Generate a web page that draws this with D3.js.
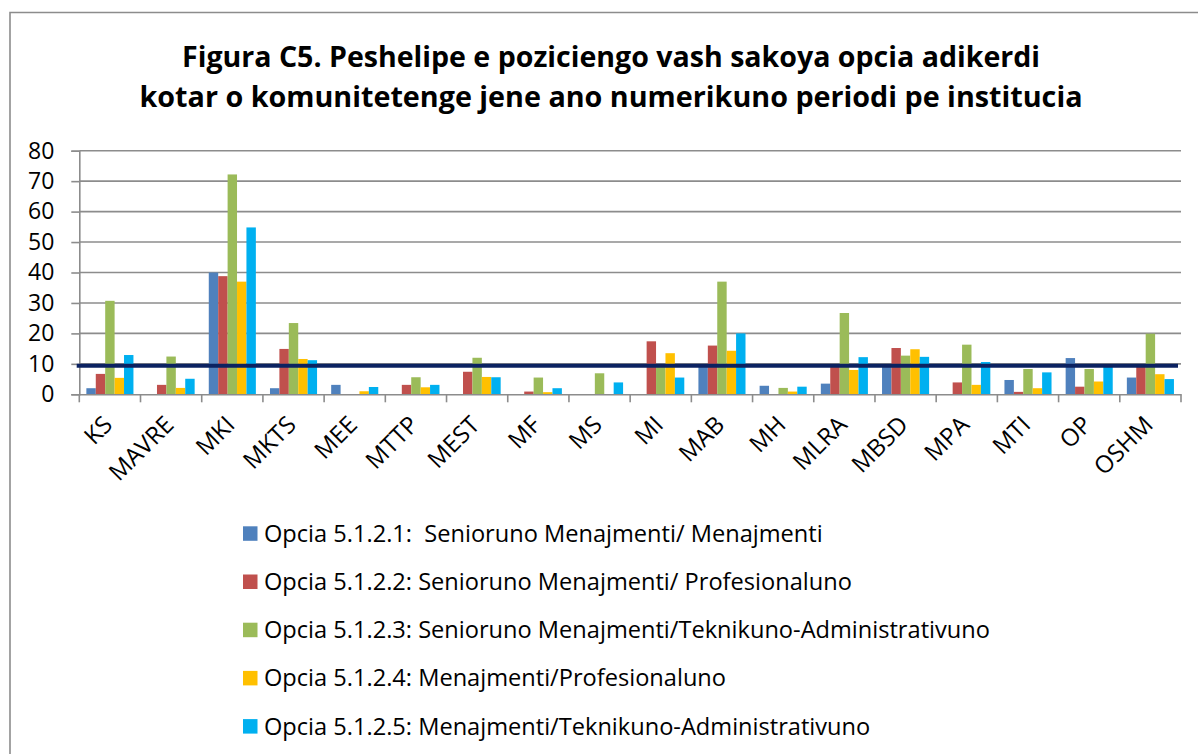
<!DOCTYPE html>
<html>
<head>
<meta charset="utf-8">
<script src="https://cdn.jsdelivr.net/npm/d3@7"></script>
<style>
  html, body { margin: 0; padding: 0; background: #fff; }
  svg { display: block; }
  text { font-family: "Open Sans", "Noto Sans", sans-serif; fill: #000; }
</style>
</head>
<body>
<svg id="chart" width="1198" height="754"></svg>
<script>
// ---- data ----
const categories = ["KS","MAVRE","MKI","MKTS","MEE","MTTP","MEST","MF","MS","MI","MAB","MH","MLRA","MBSD","MPA","MTI","OP","OSHM"];
const seriesNames = [
  "Opcia 5.1.2.1:  Senioruno Menajmenti/ Menajmenti",
  "Opcia 5.1.2.2: Senioruno Menajmenti/ Profesionaluno",
  "Opcia 5.1.2.3: Senioruno Menajmenti/Teknikuno-Administrativuno",
  "Opcia 5.1.2.4: Menajmenti/Profesionaluno",
  "Opcia 5.1.2.5: Menajmenti/Teknikuno-Administrativuno"
];
const s1 = [2.0, 0, 40.0, 2.0, 3.1, 0, 0, 0, 0, 0, 9.5, 2.8, 3.5, 9.5, 0, 4.7, 11.9, 5.5];
const s2 = [6.7, 3.1, 38.8, 14.9, 0, 3.1, 7.4, 0.9, 0, 17.4, 16.0, 0, 9.5, 15.2, 3.9, 0.8, 2.5, 9.5];
const s3 = [30.7, 12.4, 72.2, 23.4, 0, 5.6, 12.0, 5.5, 6.9, 9.5, 37.0, 2.1, 26.7, 12.7, 16.3, 8.3, 8.3, 19.9];
const s4 = [5.4, 2.1, 37.0, 11.6, 1.0, 2.3, 5.7, 0.7, 0, 13.5, 14.3, 0.9, 8.0, 14.8, 3.1, 2.0, 4.2, 6.6];
const s5 = [12.9, 5.1, 54.8, 11.2, 2.4, 3.1, 5.6, 2.0, 3.9, 5.5, 20.0, 2.5, 12.2, 12.3, 10.6, 7.2, 9.5, 5.0];
const referenceValue = 9.4;
const yTicks = [0, 10, 20, 30, 40, 50, 60, 70, 80];
const titleLines = [
  "Figura C5. Peshelipe e poziciengo vash sakoya opcia adikerdi",
  "kotar o komunitetenge jene ano numerikuno periodi pe institucia"
];

const seriesValues = [s1, s2, s3, s4, s5];
const colors = ["#4F81BD", "#C0504D", "#9BBB59", "#FFC000", "#00B0F0"];

// ---- layout ----
const svg = d3.select("#chart");
const plot = { left: 79.3, right: 1181, top: 150.7, bottom: 394.3 };

// outer chart border
svg.append("path")
  .attr("d", `M10,760 L10,12.5 L1205,12.5`)
  .attr("fill", "none").attr("stroke", "#8c8c8c").attr("stroke-width", 1.6);

// title
const titleG = svg.append("g");
const titleY = [67, 107];
const titleW = [858, 943];
titleLines.forEach((t, i) => {
  titleG.append("text")
    .attr("x", 611).attr("y", titleY[i])
    .attr("text-anchor", "middle")
    .attr("font-size", 28).attr("font-weight", 700)
    .attr("textLength", titleW[i]).attr("lengthAdjust", "spacingAndGlyphs")
    .text(t);
});

// scales
const x0 = d3.scaleBand().domain(categories).range([plot.left, plot.right]).paddingInner(0).paddingOuter(0);
const gapFrac = 0.75 / 6.5;
const x1 = d3.scaleBand().domain(d3.range(5))
  .range([x0.bandwidth() * gapFrac, x0.bandwidth() * (1 - gapFrac)]).padding(0);
const y = d3.scaleLinear().domain([0, 80]).range([plot.bottom, plot.top]);

// gridlines
svg.append("g").selectAll("line").data(yTicks.filter(d => d > 0)).join("line")
  .attr("x1", plot.left).attr("x2", plot.right)
  .attr("y1", d => y(d)).attr("y2", d => y(d))
  .attr("stroke", "#8c8c8c").attr("stroke-width", 1.6);

// y axis
const yAxis = svg.append("g").attr("transform", `translate(${plot.left},0)`)
  .call(d3.axisLeft(y).tickValues(yTicks).tickSize(8).tickPadding(17).tickFormat(d3.format("d")));
yAxis.select(".domain").attr("stroke", "#8c8c8c").attr("stroke-width", 1.6);
yAxis.selectAll(".tick line").attr("stroke", "#8c8c8c").attr("stroke-width", 1.6);
yAxis.selectAll(".tick text").attr("font-size", 23).attr("font-family", "Open Sans").attr("fill", "#000");

// bars
const groups = svg.append("g").selectAll("g").data(categories).join("g")
  .attr("transform", d => `translate(${x0(d)},0)`);
groups.selectAll("rect")
  .data((c, ci) => seriesValues.map((s, si) => ({ si, v: s[ci] })))
  .join("rect")
  .attr("x", d => x1(d.si))
  .attr("width", x1.bandwidth())
  .attr("y", d => y(d.v))
  .attr("height", d => y(0) - y(d.v))
  .attr("fill", d => colors[d.si]);

// x axis
const xAxis = svg.append("g").attr("transform", `translate(0,${plot.bottom})`)
  .call(d3.axisBottom(x0).tickSize(0).tickFormat(""));
xAxis.select(".domain").attr("stroke", "#8c8c8c").attr("stroke-width", 1.6);
// category boundary tick marks
const boundaries = categories.map(c => x0(c)).concat([plot.right]);
xAxis.append("g").selectAll("line").data(boundaries).join("line")
  .attr("x1", d => d).attr("x2", d => d).attr("y1", 0).attr("y2", 8)
  .attr("stroke", "#8c8c8c").attr("stroke-width", 1.6);
// rotated labels
xAxis.append("g").selectAll("text").data(categories).join("text")
  .attr("text-anchor", "end")
  .attr("font-size", 24)
  .attr("transform", d => `translate(${x0(d) + x0.bandwidth() / 2 + 4},${32}) rotate(-45)`)
  .text(d => d);

// reference line
svg.append("line")
  .attr("x1", plot.left - 2.6).attr("x2", plot.right - 3)
  .attr("y1", y(referenceValue)).attr("y2", y(referenceValue))
  .attr("stroke", "#0b2261").attr("stroke-width", 4);

// legend
const legendY = [533.5, 581.7, 629.9, 678.1, 726.3];
const leg = svg.append("g");
seriesNames.forEach((n, i) => {
  leg.append("rect").attr("x", 243).attr("y", legendY[i] - 7.2).attr("width", 14.5).attr("height", 14.5)
    .attr("fill", colors[i]);
  leg.append("text").attr("x", 264).attr("y", legendY[i] + 8.2)
    .attr("font-size", 23.6).style("white-space", "pre").text(n);
});
</script>
</body>
</html>
